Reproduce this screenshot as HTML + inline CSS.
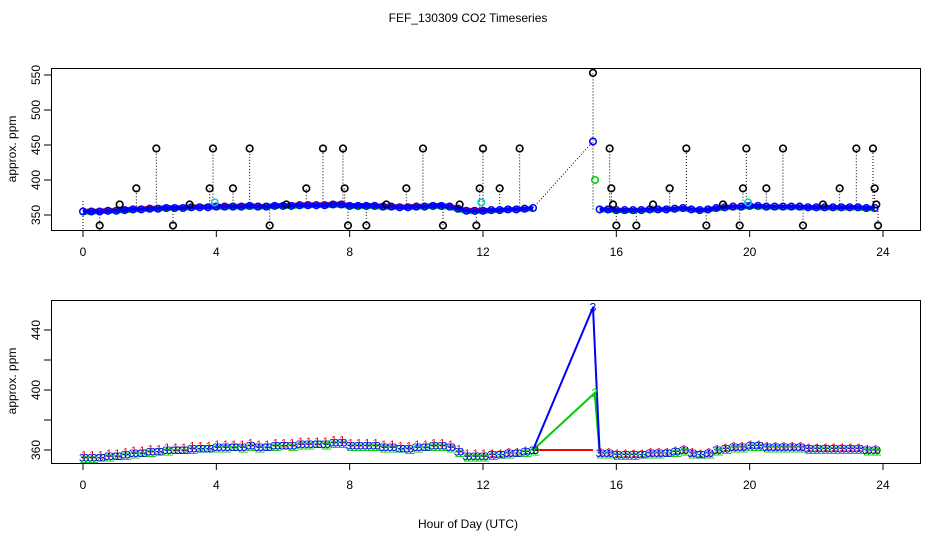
<!DOCTYPE html>
<html><head><meta charset="utf-8"><style>
body{margin:0;background:#fff}
svg text{font-family:"Liberation Sans",sans-serif}
</style></head><body>
<svg id="c" width="936" height="540" xmlns="http://www.w3.org/2000/svg">
<text x="468" y="22" font-size="12" text-anchor="middle">FEF_130309  CO2 Timeseries</text>
<text x="468" y="528" font-size="12" text-anchor="middle">Hour of Day (UTC)</text>
<g id="top"></g>
<g id="bot"></g>
</svg>
<script>
const hours=[0,0.25,0.5,0.75,1,1.25,1.5,1.75,2,2.25,2.5,2.75,3,3.25,3.5,3.75,4,4.25,4.5,4.75,5,5.25,5.5,5.75,6,6.25,6.5,6.75,7,7.25,7.5,7.75,8,8.25,8.5,8.75,9,9.25,9.5,9.75,10,10.25,10.5,10.75,11,11.25,11.5,11.75,12,12.25,12.5,12.75,13,13.25,13.5,15.5,15.75,16,16.25,16.5,16.75,17,17.25,17.5,17.75,18,18.25,18.5,18.75,19,19.25,19.5,19.75,20,20.25,20.5,20.75,21,21.25,21.5,21.75,22,22.25,22.5,22.75,23,23.25,23.5,23.75];
const blueVals=[355,355,355,356,356,357,358,358,359,359,360,360,360,361,361,361,362,362,362,362,363,362,362,363,363,363,364,364,364,364,365,365,363,363,363,363,362,362,361,361,362,362,363,363,362,359,356,356,356,357,357,358,358,359,360,358,358,357,357,357,357,358,358,358,359,360,358,357,358,360,361,362,362,363,363,362,362,362,362,362,361,361,361,361,361,361,361,360,360,360];
const redVals=[357,357,357,358,358,359,360,360,361,361,362,362,362,363,363,363,364,364,364,364,365,364,364,365,365,365,366,366,366,366,367,367,365,365,365,365,364,364,363,363,364,364,365,365,364,361,358,358,358,358,358,359,359,360,360,359,359,358,358,358,358,359,359,359,360,361,359,358,359,361,362,363,363,364,364,363,363,363,363,363,362,362,362,362,362,362,362,361,361,361];
const greenVals=[354,354,355,355,356,356,357,358,358,359,359,360,360,360,361,361,361,361,362,361,362,361,362,362,363,362,363,363,364,363,364,364,362,362,362,362,361,361,361,360,361,362,362,362,361,358,355,355,355,356,357,357,358,358,359,357,357,356,356,356,357,357,357,358,358,359,357,357,357,359,360,361,361,362,362,361,361,361,361,361,360,360,360,360,360,360,360,359,359,359];
const spikeHours=[15.3,15.35];
const spikeBlue=[455,453];
const spikeGreen=[400,398];
const outHours=[0.5,1.1,1.6,2.2,2.7,3.2,3.8,3.9,4.5,5.0,5.6,6.1,6.7,7.2,7.8,7.85,7.95,8.5,9.1,9.7,10.2,10.8,11.3,11.8,11.9,12.0,12.5,13.1,15.3,15.8,15.85,15.9,16.0,16.6,17.1,17.6,18.1,18.7,19.2,19.7,19.8,19.9,20.5,21.0,21.6,22.2,22.7,23.2,23.7,23.75,23.8,23.85];
const outVals=[335,365,388,445,335,365,388,445,388,445,335,365,388,445,445,388,335,335,365,388,445,335,365,335,388,445,388,445,553,445,388,365,335,335,365,388,445,335,365,335,388,445,388,445,335,365,388,445,445,388,365,335];
const xTicks=[0,4,8,12,16,20,24];
const topYLabels=[350,400,450,500,550];
const botYTicks=[360,400,440];
const botYMinor=[360,380,400,420,440];

const NS="http://www.w3.org/2000/svg";
function mk(p,t,a){const e=document.createElementNS(NS,t);for(const k in a)e.setAttribute(k,a[k]);p.appendChild(e);return e;}
const X=h=>83+h*33.333;
const Yt=v=>215-(v-350)*0.7;
const Yb=v=>450-(v-360)*1.5;

function axes(g,top,bottom,yTicksArr,Y,label,yMid,lblTicks){
  const b=mk(g,'rect',{x:51.5,y:top+0.5,width:869,height:bottom-top,fill:'none',stroke:'#000','stroke-width':1});
  
  xTicks.forEach(t=>{mk(g,'line',{x1:X(t),x2:X(t),y1:bottom,y2:bottom+7,stroke:'#000'});
    const tx=mk(g,'text',{x:X(t),y:bottom+26,'font-size':12,'text-anchor':'middle'});tx.textContent=t;
    });
  yTicksArr.forEach(v=>{mk(g,'line',{x1:44,x2:51,y1:Y(v),y2:Y(v),stroke:'#000'});});
  lblTicks.forEach(v=>{const tx=mk(g,'text',{x:0,y:0,'font-size':12,'text-anchor':'middle',transform:`translate(40,${Y(v)}) rotate(-90)`});tx.textContent=v;
    });
  const yl=mk(g,'text',{x:0,y:0,'font-size':12,'text-anchor':'middle',transform:`translate(16,${yMid}) rotate(-90)`});yl.textContent=label;
  
}

// TOP
const gt=document.getElementById('top');
axes(gt,68,230,topYLabels,Yt,'approx. ppm',149,topYLabels);
outHours.forEach((h,i)=>{let j=0,d=1e9;hours.forEach((hh,k)=>{if(Math.abs(hh-h)<d){d=Math.abs(hh-h);j=k;}});
  mk(gt,'line',{x1:X(h),x2:X(h),y1:Yt(blueVals[j]),y2:Yt(outVals[i]),stroke:'#000','stroke-dasharray':'1,2'});});
mk(gt,'line',{x1:X(0),x2:X(0),y1:Yt(370),y2:231,stroke:'#000','stroke-dasharray':'1,2'});
mk(gt,'line',{x1:X(13.5),x2:X(spikeHours[0]),y1:Yt(360),y2:Yt(spikeBlue[0]),stroke:'#000','stroke-dasharray':'1,2'});
function band(g,vals,col,Y,w){let seg=[];const segs=[];hours.forEach((h,i)=>{if(i>0&&h-hours[i-1]>1){segs.push(seg);seg=[];}seg.push(X(h)+','+Y(vals[i]));});segs.push(seg);
  segs.forEach(s=>mk(g,'polyline',{points:s.join(' '),fill:'none',stroke:col,'stroke-width':w}));}
band(gt,redVals,'#f00',Yt,3);band(gt,greenVals,'#0c0',Yt,5);band(gt,blueVals,'#00f',Yt,4);
hours.forEach((h,i)=>{const c=mk(gt,'circle',{cx:X(h),cy:Yt(blueVals[i]),r:3.3,fill:'none',stroke:'#00f','stroke-width':1.5});
  });
spikeHours.forEach((h,i)=>{if(i)return;mk(gt,'circle',{cx:X(h),cy:Yt(spikeBlue[i]),r:3.3,fill:'none',stroke:'#00f','stroke-width':1.5});
  mk(gt,'circle',{cx:X(h)+2,cy:Yt(spikeGreen[i]),r:3.3,fill:'none',stroke:'#0c0','stroke-width':1.5});});
outHours.forEach((h,i)=>{const c=mk(gt,'circle',{cx:X(h),cy:Yt(outVals[i]),r:3.3,fill:'none',stroke:'#000','stroke-width':1.6});
  });
[3.95,11.95,19.95].forEach(h=>mk(gt,'circle',{cx:X(h),cy:Yt(368),r:3.3,fill:'none',stroke:'#0cc','stroke-width':1.5}));

// BOTTOM
const gb=document.getElementById('bot');
axes(gb,300,463,botYMinor,Yb,'approx. ppm',381,botYTicks);
mk(gb,'line',{x1:X(13.5),x2:X(spikeHours[0]),y1:Yb(360),y2:Yb(360),stroke:'#f00','stroke-width':2});
mk(gb,'polyline',{points:`${X(13.5)},${Yb(360)} ${X(spikeHours[1])},${Yb(spikeGreen[1])} ${X(15.5)},${Yb(358)}`,fill:'none',stroke:'#0c0','stroke-width':2});
mk(gb,'polyline',{points:`${X(13.5)},${Yb(360)} ${X(spikeHours[0])},${Yb(spikeBlue[0])} ${X(15.5)},${Yb(358)}`,fill:'none',stroke:'#00f','stroke-width':2});
function chars(g,vals,col,ch,dx){hours.forEach((h,i)=>{const t=mk(g,'text',{x:X(h)+dx,y:Yb(vals[i])+4,'font-size':11,fill:col,'text-anchor':'middle'});t.textContent=ch;
  });}
chars(gb,redVals,'#f00','1',1);chars(gb,greenVals,'#0c0','2',0);chars(gb,greenVals,'#0c0','2',4);chars(gb,blueVals,'#00f','3',-1);
chars(gb,blueVals,'#00f','3',3);
const sb=mk(gb,'text',{x:X(spikeHours[0]),y:Yb(spikeBlue[0])+4,'font-size':12,fill:'#00f','text-anchor':'middle'});sb.textContent='3';
const sg=mk(gb,'text',{x:X(spikeHours[1]),y:Yb(spikeGreen[1])+4,'font-size':12,fill:'#0c0','text-anchor':'middle'});sg.textContent='2';
</script>
</body></html>
